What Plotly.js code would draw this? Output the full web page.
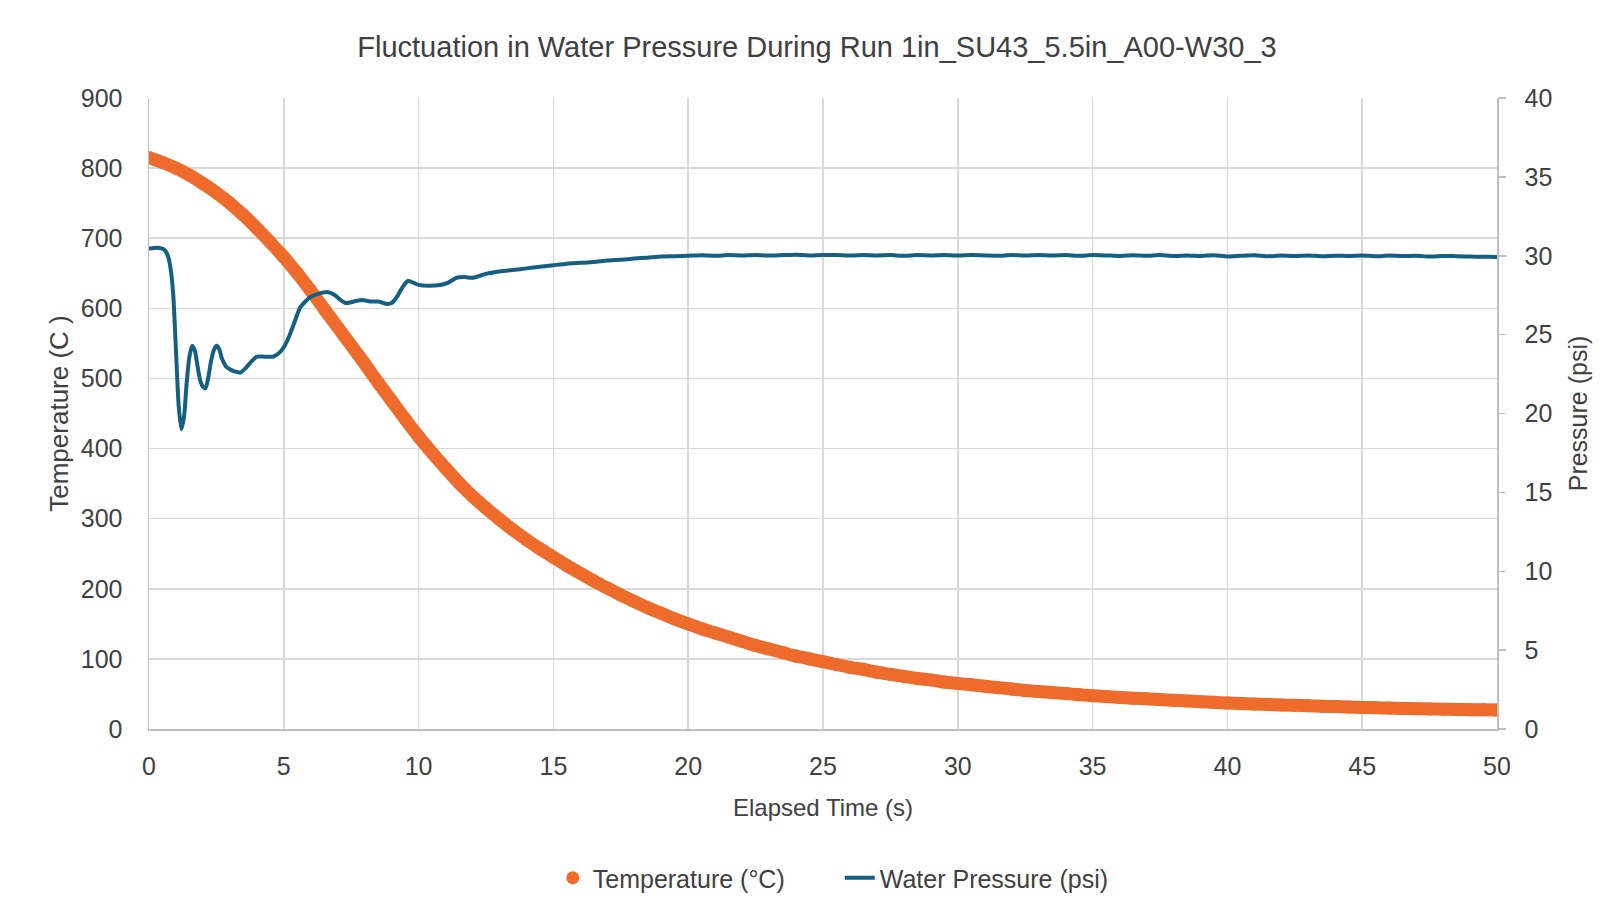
<!DOCTYPE html>
<html>
<head>
<meta charset="utf-8">
<script src="https://cdn.plot.ly/plotly-3.0.1.min.js"></script>
<style>
  html, body { margin: 0; padding: 0; background: #ffffff; }
  #chart { width: 1621px; height: 915px; }
</style>
</head>
<body>
<div id="chart"></div>
<script>
// Quench run: thermocouple temperature (left axis) and water line pressure (right axis)
const tempTime = [
  0, 0.5, 1, 1.5, 2, 2.5, 3, 3.5, 4, 4.5, 5, 5.5, 6, 6.5, 7, 7.5, 8, 8.5, 9, 9.5,
  10, 10.5, 11, 11.5, 12, 12.5, 13, 13.5, 14, 14.5, 15, 15.5, 16, 16.5, 17, 17.5, 18, 18.5, 19, 19.5,
  20, 20.5, 21, 21.5, 22, 22.5, 23, 23.5, 24, 24.5, 25, 25.5, 26, 26.5, 27, 27.5, 28, 28.5, 29, 29.5,
  30, 30.5, 31, 31.5, 32, 32.5, 33, 33.5, 34, 34.5, 35, 35.5, 36, 36.5, 37, 37.5, 38, 38.5, 39, 39.5,
  40, 40.5, 41, 41.5, 42, 42.5, 43, 43.5, 44, 44.5, 45, 45.5, 46, 46.5, 47, 47.5, 48, 48.5, 49, 49.5, 50
];
const temperatureC = [
  815, 808, 800, 790, 778, 765, 750, 733, 714, 694, 673, 650, 625, 599, 573, 547, 521, 494, 468, 442,
  417, 394, 372, 351, 332, 315, 299, 284, 270, 257, 245, 233, 222, 211, 201, 191, 182, 173, 165, 157,
  150, 143, 137, 131, 125, 119, 114, 109, 104, 100, 96, 92, 88, 85, 81, 78, 75, 72, 70, 67,
  65, 63, 61, 59, 57, 55, 53.5, 52, 50.5, 49, 47.5, 46.3, 45, 44, 43, 42, 41, 40, 39, 38,
  37, 36.3, 35.6, 35, 34.3, 33.7, 33, 32.5, 32, 31.3, 30.8, 30.3, 29.8, 29.4, 29, 28.6, 28.2, 27.9, 27.6, 27.3, 27
];

const pressureTime = [
  0, 0.3, 0.55, 0.7, 0.8, 0.9, 1.0, 1.1, 1.2, 1.3, 1.4, 1.5, 1.6, 1.7, 1.8, 1.9, 2.0, 2.1, 2.2, 2.3,
  2.4, 2.5, 2.6, 2.7, 2.85, 3.0, 3.2, 3.4, 3.6, 3.8, 4.0, 4.3, 4.6, 4.8, 5.0, 5.2, 5.4, 5.6, 5.8, 6.0,
  6.3, 6.6, 6.9, 7.1, 7.3, 7.6, 7.9, 8.2, 8.5, 8.8, 9.0, 9.2, 9.4, 9.6, 9.8, 10.0, 10.4, 10.8, 11.1, 11.4,
  11.7, 12.0, 12.5, 13, 13.5, 14, 14.5, 15, 15.5, 16, 16.5, 17, 17.5, 18, 18.5, 19, 19.5, 20, 20.5, 21,
  21.5, 22, 22.5, 23, 23.5, 24, 24.5, 25, 25.5, 26, 26.5, 27, 27.5, 28, 28.5, 29, 29.5, 30, 30.5, 31,
  31.5, 32, 32.5, 33, 33.5, 34, 34.5, 35, 35.5, 36, 36.5, 37, 37.5, 38, 38.5, 39, 39.5, 40, 40.5, 41,
  41.5, 42, 42.5, 43, 43.5, 44, 44.5, 45, 45.5, 46, 46.5, 47, 47.5, 48, 48.5, 49, 49.5, 50
];
const pressurePsi = [
  30.45, 30.5, 30.4, 30.0, 29.2, 27.5, 24.0, 20.5, 19.0, 19.8, 22.0, 23.6, 24.3, 24.0, 23.0, 22.1, 21.7, 21.6, 22.3, 23.3,
  24.0, 24.3, 24.1, 23.5, 23.0, 22.8, 22.65, 22.6, 22.9, 23.3, 23.6, 23.6, 23.6, 23.8, 24.2, 24.9, 25.8, 26.7, 27.1, 27.4,
  27.6, 27.7, 27.5, 27.2, 27.0, 27.1, 27.2, 27.1, 27.1, 26.95, 27.0, 27.4, 28.0, 28.4, 28.3, 28.15, 28.1, 28.15, 28.3, 28.6,
  28.65, 28.6, 28.85, 29.0, 29.1, 29.2, 29.3, 29.4, 29.5, 29.55, 29.6, 29.7, 29.75, 29.82, 29.88, 29.95, 29.97, 30.0, 30.03, 30.0,
  30.04, 30.02, 30.05, 30.01, 30.04, 30.07, 30.02, 30.05, 30.04, 30.01, 30.05, 30.02, 30.04, 30.0, 30.04, 30.02, 30.05, 30.01, 30.04, 30.02,
  30.0, 30.04, 30.01, 30.05, 30.01, 30.04, 30.0, 30.04, 30.02, 29.99, 30.03, 30.0, 30.04, 29.98, 30.02, 29.99, 30.03, 29.96, 30.0, 30.03,
  29.97, 30.01, 29.98, 30.02, 29.97, 30.0, 29.99, 30.02, 29.97, 30.01, 29.98, 30.0, 29.95, 29.99, 29.97, 29.95, 29.93, 29.92
];

const xTicks = [0, 5, 10, 15, 20, 25, 30, 35, 40, 45, 50];
const tempTicks = [0, 100, 200, 300, 400, 500, 600, 700, 800, 900];
const pressureTicks = [0, 5, 10, 15, 20, 25, 30, 35, 40];

const ORANGE = '#EE6B2C';
const TEAL = '#156082';
const TEXT = '#404040';
const GRID = '#d9d9d9';
const FONT = '"Liberation Sans", Arial, sans-serif';

const traces = [
  {
    // continuous band under the temperature markers
    x: tempTime, y: temperatureC, type: 'scatter', mode: 'lines',
    line: { color: ORANGE, width: 13, shape: 'spline' },
    showlegend: false, legendgroup: 'temp', hoverinfo: 'skip', yaxis: 'y'
  },
  {
    x: tempTime, y: temperatureC, type: 'scatter', mode: 'markers',
    name: 'Temperature (°C)', legendgroup: 'temp',
    marker: { color: ORANGE, size: 13 }, yaxis: 'y'
  },
  {
    x: pressureTime, y: pressurePsi, type: 'scatter', mode: 'lines',
    name: 'Water Pressure (psi)',
    line: { color: TEAL, width: 4, shape: 'spline', smoothing: 0.6 },
    yaxis: 'y2'
  }
];

const layout = {
  width: 1621, height: 915,
  paper_bgcolor: '#ffffff', plot_bgcolor: '#ffffff',
  margin: { l: 149, r: 124, t: 98, b: 186 },
  font: { family: FONT, color: TEXT, size: 24 },
  title: {
    text: 'Fluctuation in Water Pressure During Run 1in_SU43_5.5in_A00-W30_3',
    font: { family: FONT, size: 29, color: TEXT },
    x: 0.504, xanchor: 'center', xref: 'container',
    y: 1 - 47 / 915, yanchor: 'middle', yref: 'container'
  },
  xaxis: {
    range: [0, 50], tickvals: xTicks, ticktext: xTicks.map(String),
    showgrid: true, gridcolor: GRID, gridwidth: 1.5,
    showline: true, linecolor: '#bfbfbf', linewidth: 1.5,
    zeroline: false, ticks: '', ticklabelstandoff: 14,
    tickfont: { family: FONT, size: 25, color: TEXT },
    title: { text: 'Elapsed Time (s)', font: { family: FONT, size: 24, color: TEXT }, standoff: 20 }
  },
  yaxis: {
    range: [0, 900], tickvals: tempTicks, ticktext: tempTicks.map(String),
    showgrid: true, gridcolor: GRID, gridwidth: 1.5,
    showline: true, linecolor: '#bfbfbf', linewidth: 1.5,
    zeroline: false, ticks: '', ticklabelstandoff: 20,
    tickfont: { family: FONT, size: 25, color: TEXT },
    title: { text: 'Temperature (C )', font: { family: FONT, size: 26, color: TEXT }, standoff: 4 }
  },
  yaxis2: {
    range: [0, 40], tickvals: pressureTicks, ticktext: pressureTicks.map(String),
    overlaying: 'y', side: 'right',
    showgrid: false, showline: true, linecolor: '#bfbfbf', linewidth: 1.5,
    zeroline: false, ticks: 'outside', ticklen: 7, tickcolor: '#bfbfbf', tickwidth: 1.5,
    ticklabelstandoff: 14,
    tickfont: { family: FONT, size: 25, color: TEXT },
    title: { text: 'Pressure (psi)', font: { family: FONT, size: 25, color: TEXT }, standoff: 18 }
  },
  legend: {
    orientation: 'h', x: 0.341, xanchor: 'left', xref: 'container',
    y: 1 - 878 / 915, yanchor: 'middle', yref: 'container',
    font: { family: FONT, size: 25, color: TEXT },
    bgcolor: 'rgba(0,0,0,0)', itemwidth: 30, traceorder: 'normal',
    entrywidth: 242, entrywidthmode: 'pixels'
  },
  showlegend: true
};

Plotly.newPlot('chart', traces, layout, { displayModeBar: false, staticPlot: true });
</script>
</body>
</html>
